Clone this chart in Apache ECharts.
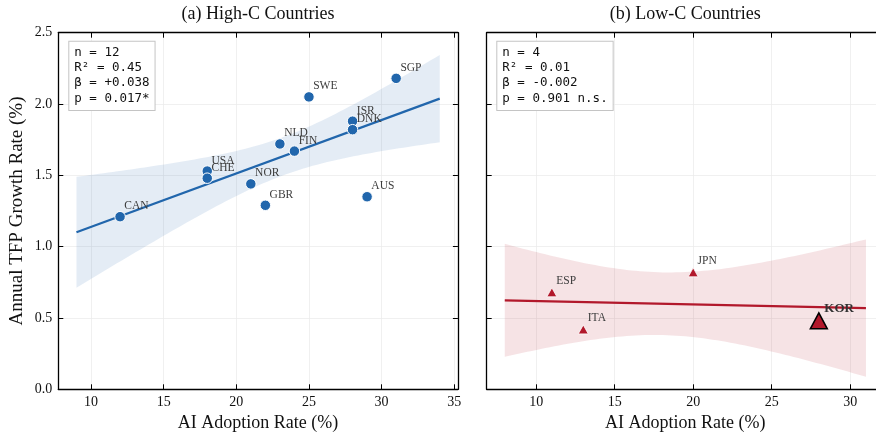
<!DOCTYPE html>
<html><head><meta charset="utf-8">
<script src="https://cdn.jsdelivr.net/npm/echarts@6/dist/echarts.min.js"></script>
<style>html,body{margin:0;padding:0;background:#fff}#c{width:876px;height:436px}</style>
</head><body><div id="c"></div>
<script>
// ---- data ----
const highNames = ['CAN','USA','CHE','NOR','GBR','NLD','FIN','SWE','ISR','DNK','AUS','SGP'];
const highX = [12, 18, 18, 21, 22, 23, 24, 25, 28, 28, 29, 31];
const highY = [1.21, 1.53, 1.48, 1.44, 1.29, 1.72, 1.67, 2.05, 1.88, 1.82, 1.35, 2.18];
const lowNames = ['ESP','ITA','JPN','KOR'];
const lowX = [11, 13, 20, 28];
const lowY = [0.68, 0.42, 0.82, 0.48];
const highlightName = 'KOR';
const xTicksHigh = [10, 15, 20, 25, 30, 35];
const xTicksLow = [10, 15, 20, 25, 30];
const yTicks = [0, 0.5, 1.0, 1.5, 2.0, 2.5];
const statsHigh = ['n = 12', 'R² = 0.45', 'β = +0.038', 'p = 0.017*'];
const statsLow = ['n = 4', 'R² = 0.01', 'β = -0.002', 'p = 0.901 n.s.'];
const panelTitles = ['(a) High-C Countries', '(b) Low-C Countries'];
const xLabel = 'AI Adoption Rate (%)';
const yLabel = 'Annual TFP Growth Rate (%)';

// ---- styling ----
const SERIF = '"Liberation Serif", "Times New Roman", serif';
const MONO = '"DejaVu Sans Mono", monospace';
const BLUE = '#2166ac', RED = '#b2182b';
const G0 = {left: 58.3, top: 32.7, width: 399.6, height: 356.6};
const G1 = {left: 486.7, top: 32.7, width: 397.3, height: 356.6};

function fit(xs, ys) {
  const n = xs.length;
  const xm = xs.reduce((a, b) => a + b, 0) / n;
  const ym = ys.reduce((a, b) => a + b, 0) / n;
  let sxx = 0, sxy = 0;
  for (let i = 0; i < n; i++) { sxx += (xs[i] - xm) ** 2; sxy += (xs[i] - xm) * (ys[i] - ym); }
  const b = sxy / sxx, a = ym - b * xm;
  let sse = 0;
  for (let i = 0; i < n; i++) sse += (ys[i] - (a + b * xs[i])) ** 2;
  const s = Math.sqrt(sse / (n - 2));
  const x0 = Math.min(...xs) - 3, x1 = Math.max(...xs) + 3;
  const pad = (x1 - x0) * 0.05;
  const band = [];
  const N = 80;
  for (let k = 0; k <= N; k++) {
    const x = x0 + (x1 - x0) * k / N;
    const yh = a + b * x;
    const h = 1.96 * s * Math.sqrt(1 / n + (x - xm) ** 2 / sxx);
    band.push([x, yh - h, yh + h]);
  }
  return {a, b, x0, x1, band, range: [x0 - pad, x1 + pad]};
}
const fH = fit(highX, highY);
const fL = fit(lowX, lowY);

function xAxes(gi, range, ticks) {
  const common = {
    type: 'value', gridIndex: gi, min: range[0], max: range[1],
    axisLine: {show: true, onZero: false, lineStyle: {color: '#000', width: 1.3}},
    axisTick: {show: true, inside: true, length: 5, customValues: ticks, lineStyle: {color: '#000', width: 1}}
  };
  return [
    Object.assign({}, common, {
      position: 'bottom',
      axisLabel: {show: true, customValues: ticks, margin: 6, fontFamily: SERIF, fontSize: 14, color: '#111'},
      splitLine: {show: true, lineStyle: {color: '#ececec', width: 0.8}},
      name: xLabel, nameLocation: 'middle', nameGap: 24,
      nameTextStyle: {fontFamily: SERIF, fontSize: 18, color: '#111'}
    }),
    Object.assign({}, common, {
      position: 'top', axisLabel: {show: false}, splitLine: {show: false}
    })
  ];
}
function yAxes(gi, withLabels, rightLine) {
  const common = {
    type: 'value', gridIndex: gi, min: 0, max: 2.5, interval: 0.5,
    axisLine: {show: true, onZero: false, lineStyle: {color: '#000', width: 1.3}},
    axisTick: {show: true, inside: true, length: 5, lineStyle: {color: '#000', width: 1}}
  };
  const left = Object.assign({}, common, {
    position: 'left',
    axisLabel: {show: withLabels, margin: 6, fontFamily: SERIF, fontSize: 14, color: '#111',
      formatter: v => v.toFixed(1)},
    splitLine: {show: true, lineStyle: {color: '#ececec', width: 0.8}}
  });
  if (withLabels) {
    left.name = yLabel; left.nameLocation = 'middle'; left.nameGap = 32;
    left.nameTextStyle = {fontFamily: SERIF, fontSize: 19, color: '#111'};
  }
  const right = Object.assign({}, common, {position: 'right', axisLabel: {show: false}, splitLine: {show: false}});
  if (!rightLine) { right.axisLine = {show: false}; right.axisTick = {show: false}; }
  return [left, right];
}

function bandSeries(f, xi, yi, color) {
  return {
    type: 'custom', xAxisIndex: xi, yAxisIndex: yi, silent: true, z: 1,
    data: [[f.x0, 0]],
    renderItem: function (params, api) {
      const pts = [];
      f.band.forEach(p => pts.push(api.coord([p[0], p[2]])));
      for (let k = f.band.length - 1; k >= 0; k--) pts.push(api.coord([f.band[k][0], f.band[k][1]]));
      return {type: 'polygon', shape: {points: pts}, style: {fill: color}};
    }
  };
}
function lineSeries(f, xi, yi, color) {
  return {
    type: 'line', xAxisIndex: xi, yAxisIndex: yi, z: 2, silent: true,
    showSymbol: false, symbol: 'none',
    data: [[f.x0, f.a + f.b * f.x0], [f.x1, f.a + f.b * f.x1]],
    lineStyle: {color: color, width: 2.2}
  };
}
const labelStyle = {show: true, position: 'right', distance: 0, fontFamily: SERIF, fontSize: 11.5,
  color: '#3c3c3c', formatter: p => p.name};

const highData = highNames.map((n, i) => ({name: n, value: [highX[i], highY[i]]}));
const lowData = [], korData = [];
lowNames.forEach((n, i) => {
  (n === highlightName ? korData : lowData).push({name: n, value: [lowX[i], lowY[i]]});
});

const option = {
  animation: false,
  grid: [
    Object.assign({outerBoundsMode: 'none'}, G0),
    Object.assign({outerBoundsMode: 'none'}, G1)
  ],
  xAxis: [].concat(xAxes(0, fH.range, xTicksHigh), xAxes(1, fL.range, xTicksLow)),
  yAxis: [].concat(yAxes(0, true, true), yAxes(1, false, false)),
  series: [
    bandSeries(fH, 0, 0, 'rgba(33,102,172,0.12)'),
    lineSeries(fH, 0, 0, BLUE),
    {
      type: 'scatter', xAxisIndex: 0, yAxisIndex: 0, z: 3, data: highData,
      symbol: 'circle', symbolSize: 10.5,
      itemStyle: {color: BLUE, borderColor: '#fff', borderWidth: 1, opacity: 1},
      label: Object.assign({}, labelStyle, {offset: [-1.5, -10.5]})
    },
    bandSeries(fL, 2, 2, 'rgba(178,24,43,0.12)'),
    lineSeries(fL, 2, 2, RED),
    {
      type: 'scatter', xAxisIndex: 2, yAxisIndex: 2, z: 3, data: lowData,
      symbol: 'triangle', symbolSize: [10, 9],
      itemStyle: {color: RED, borderColor: '#fff', borderWidth: 0.8, opacity: 1},
      label: Object.assign({}, labelStyle, {offset: [-1, -11]})
    },
    {
      type: 'scatter', xAxisIndex: 2, yAxisIndex: 2, z: 4, data: korData,
      symbol: 'triangle', symbolSize: [17, 16],
      itemStyle: {color: RED, borderColor: '#000', borderWidth: 1.5, opacity: 1},
      label: Object.assign({}, labelStyle, {fontSize: 13, fontWeight: 'bold', color: '#333', offset: [-3.8, -11.7]})
    }
  ],
  graphic: [
    {type: 'text', x: G0.left + G0.width / 2, y: 14, z: 10,
      style: {text: panelTitles[0], font: '18px ' + SERIF, fill: '#111', align: 'center', verticalAlign: 'middle'}},
    {type: 'text', x: G1.left + G1.width / 2, y: 14, z: 10,
      style: {text: panelTitles[1], font: '18px ' + SERIF, fill: '#111', align: 'center', verticalAlign: 'middle'}},
    {type: 'text', x: 69.3, y: 41.7, z: 10,
      style: {text: statsHigh.join('\n'), font: '12.5px ' + MONO, fill: '#111', align: 'left', verticalAlign: 'top',
        lineHeight: 15.3, backgroundColor: '#fff', borderColor: '#c4c4c4', borderWidth: 1, padding: [3, 5, 4, 5]}},
    {type: 'text', x: 497.3, y: 41.7, z: 10,
      style: {text: statsLow.join('\n'), font: '12.5px ' + MONO, fill: '#111', align: 'left', verticalAlign: 'top',
        lineHeight: 15.3, backgroundColor: '#fff', borderColor: '#c4c4c4', borderWidth: 1, padding: [3, 5, 4, 5]}}
  ]
};
const chart = echarts.init(document.getElementById('c'), null, {renderer: 'canvas'});
chart.setOption(option);
</script></body></html>
